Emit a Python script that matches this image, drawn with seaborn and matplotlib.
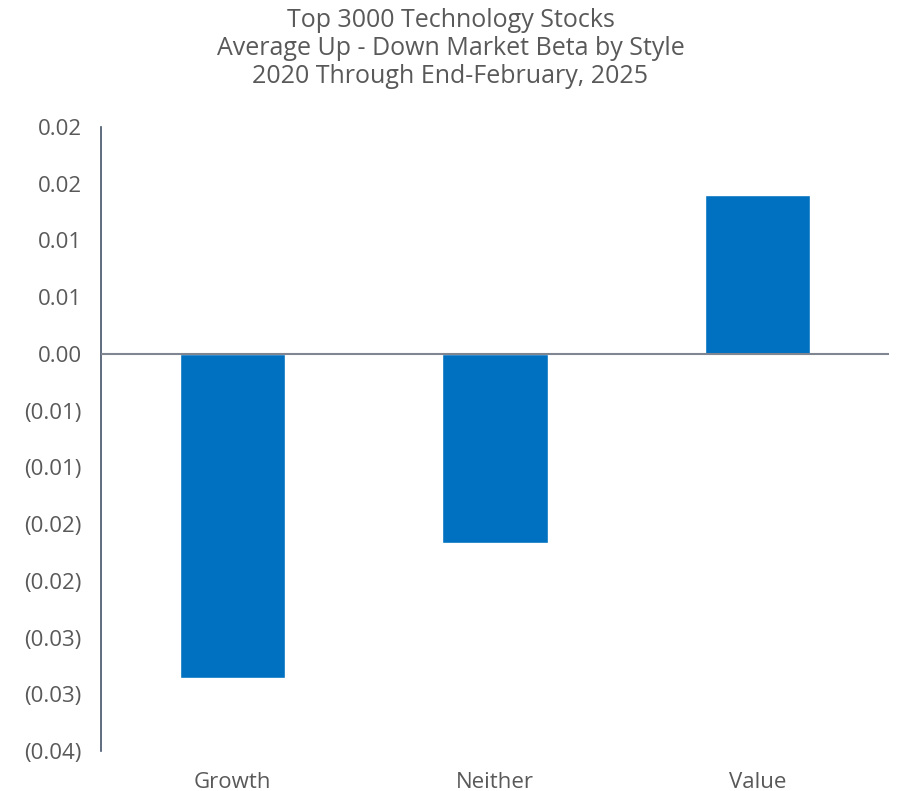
import matplotlib
matplotlib.use("Agg")
import matplotlib.pyplot as plt
import seaborn as sns
import pandas as pd

# Average up-minus-down market beta per style bucket
styles = ["Growth", "Neither", "Value"]
beta_diff = [-0.0286, -0.0167, 0.0140]

# Axis ticks in steps of 0.005, labelled to two decimals (accounting style)
y_ticks = [0.02, 0.015, 0.01, 0.005, 0.0, -0.005, -0.01, -0.015, -0.02, -0.025, -0.03, -0.035]
y_tick_labels = ["0.02", "0.02", "0.01", "0.01", "0.00", "(0.01)", "(0.01)",
                 "(0.02)", "(0.02)", "(0.03)", "(0.03)", "(0.04)"]

title_lines = ["Top 3000 Technology Stocks",
               "Average Up - Down Market Beta by Style",
               "2020 Through End-February, 2025"]

sns.set_theme(style="white")
plt.rcParams["font.family"] = ["Open Sans", "DejaVu Sans"]

text_color = "#595959"
bar_color = "#0070C0"

df = pd.DataFrame({"Style": styles, "Beta": beta_diff})

fig = plt.figure(figsize=(9.01, 7.91), dpi=100)
ax = fig.add_axes([101 / 901, 40 / 791, 788 / 901, 624 / 791])

sns.barplot(data=df, x="Style", y="Beta", color=bar_color, saturation=1,
            width=0.4, ax=ax, zorder=2)

ax.set_ylim(-0.035, 0.02)
ax.set_xlim(-0.5, 2.5)
ax.set_yticks(y_ticks)
ax.set_yticklabels(y_tick_labels)
ax.tick_params(axis="y", length=0, pad=14, labelsize=16, labelcolor=text_color)
ax.tick_params(axis="x", length=0, pad=15, labelsize=16, labelcolor=text_color)
ax.set_xlabel("")
ax.set_ylabel("")

for side in ["top", "right", "bottom"]:
    ax.spines[side].set_visible(False)
ax.spines["left"].set_color("#44546A")
ax.spines["left"].set_linewidth(1.2)

ax.axhline(0, color="#7F8691", linewidth=1.5, zorder=3)

fig.text(0.5, 1 - 8 / 791, "\n".join(title_lines), ha="center", va="top",
         fontsize=18, color=text_color, linespacing=1.15)

fig.savefig("out.png", dpi=100)
